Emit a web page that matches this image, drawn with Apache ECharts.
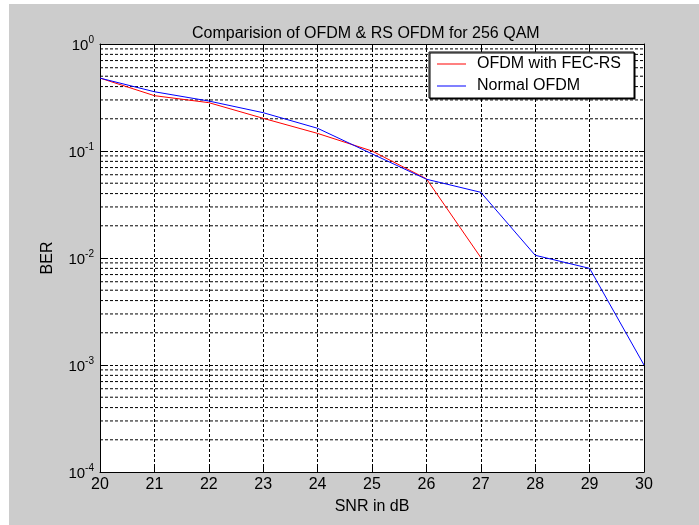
<!DOCTYPE html>
<html>
<head>
<meta charset="utf-8">
<script src="https://cdn.jsdelivr.net/npm/echarts@6/dist/echarts.min.js"></script>
<style>
html,body{margin:0;padding:0;background:#ffffff;}
#chart{position:absolute;left:9px;top:4px;width:690px;height:521px;background:#cccccc;}
</style>
</head>
<body>
<div id="chart"></div>
<script>
// Data
const snrValues = [20, 21, 22, 23, 24, 25, 26, 27, 28, 29, 30];
const berFecRs = [0.48, 0.329, 0.283, 0.202, 0.146, 0.100, 0.055, 0.0101];
const berNormal = [0.48, 0.358, 0.293, 0.228, 0.163, 0.094, 0.0545, 0.0411, 0.0106, 0.0080, 0.001];
const seriesNames = ['OFDM with FEC-RS', 'Normal OFDM'];
const titleText = 'Comparision of OFDM & RS OFDM for 256 QAM';
const xName = 'SNR in dB';
const yName = 'BER';
const minorMultipliers = [2, 3, 4, 5, 6, 7, 8, 9];
const minorDecades = [-4, -3, -2, -1];

const FONT = '"Liberation Sans", Arial, sans-serif';
const pairs = (ys) => ys.map((v, i) => [snrValues[i], v]);

// minor log grid lines as broken line segments across the x range
const minorData = [];
const xMin = snrValues[0], xMax = snrValues[snrValues.length - 1];
minorDecades.forEach(d => minorMultipliers.forEach(m => {
  const v = m * Math.pow(10, d);
  minorData.push([xMin, v], [xMax, v], [xMax, '-']);
}));

const gridDash = { color: '#000', width: 1, type: [3, 2] };

const chart = echarts.init(document.getElementById('chart'), null, { renderer: 'canvas' });
chart.setOption({
  backgroundColor: '#cccccc',
  animation: false,
  title: {
    text: titleText,
    left: 183,
    top: 22,
    padding: 0,
    textStyle: { fontFamily: FONT, fontSize: 16, fontWeight: 'normal', color: '#000' }
  },
  grid: { left: 91, top: 40, width: 544, height: 428, show: true, backgroundColor: '#fff', borderWidth: 0 },
  legend: {
    orient: 'vertical',
    left: 420,
    top: 48,
    padding: [4, 13, 4, 8],
    itemGap: 6,
    itemWidth: 29,
    itemHeight: 1,
    icon: 'rect',
    backgroundColor: '#fff',
    borderColor: '#000',
    borderWidth: 1,
    borderRadius: 0,
    shadowColor: '#000',
    shadowBlur: 0,
    shadowOffsetX: 1,
    shadowOffsetY: 1,
    textStyle: { fontFamily: FONT, fontSize: 16, color: '#000', padding: [0, 0, 0, 6] },
    data: seriesNames
  },
  xAxis: [{
    type: 'value', min: 20, max: 30, interval: 1,
    name: xName, nameLocation: 'middle', nameGap: 27,
    nameTextStyle: { fontFamily: FONT, fontSize: 16, color: '#000' },
    axisLine: { show: true, lineStyle: { color: '#000', width: 1 } },
    axisTick: { show: true, inside: true, length: 5, lineStyle: { color: '#000' } },
    axisLabel: { fontFamily: FONT, fontSize: 16, color: '#000', margin: 5, showMinLabel: true, showMaxLabel: true },
    splitLine: { show: true, lineStyle: gridDash }
  }, {
    type: 'value', min: 20, max: 30, interval: 1, position: 'top',
    axisLine: { show: true, lineStyle: { color: '#000', width: 1 } },
    axisTick: { show: true, inside: true, length: 5, lineStyle: { color: '#000' } },
    axisLabel: { show: false },
    splitLine: { show: false }
  }],
  yAxis: [{
    type: 'log', logBase: 10, min: 0.0001, max: 1,
    name: yName, nameLocation: 'middle', nameGap: 44,
    nameTextStyle: { fontFamily: FONT, fontSize: 16, color: '#000' },
    axisLine: { show: true, lineStyle: { color: '#000', width: 1 } },
    axisTick: { show: true, inside: true, length: 5, lineStyle: { color: '#000' } },
    axisLabel: {
      margin: 6,
      formatter: function (v) {
        const e = Math.round(Math.log10(v));
        return '{b|10}{s|' + e + '}';
      },
      rich: {
        b: { fontFamily: FONT, fontSize: 15, color: '#000', lineHeight: 18, verticalAlign: 'bottom', padding: [4, 0, 0, 0] },
        s: { fontFamily: FONT, fontSize: 10, color: '#000', lineHeight: 10, verticalAlign: 'top' }
      }
    },
    splitLine: { show: true, lineStyle: gridDash }
  }, {
    type: 'log', logBase: 10, min: 0.0001, max: 1, position: 'right',
    axisLine: { show: true, lineStyle: { color: '#000', width: 1 } },
    axisTick: { show: true, inside: true, length: 5, lineStyle: { color: '#000' } },
    axisLabel: { show: false },
    splitLine: { show: false }
  }],
  series: [{
    name: '_minor',
    type: 'line',
    data: minorData,
    connectNulls: false,
    symbol: 'none',
    silent: true,
    z: 1,
    lineStyle: gridDash,
    emphasis: { disabled: true }
  }, {
    name: seriesNames[0],
    type: 'line',
    data: pairs(berFecRs),
    symbol: 'none',
    z: 5,
    lineStyle: { color: '#ff0000', width: 1 },
    itemStyle: { color: '#ff0000' }
  }, {
    name: seriesNames[1],
    type: 'line',
    data: pairs(berNormal),
    symbol: 'none',
    z: 6,
    lineStyle: { color: '#0000ff', width: 1 },
    itemStyle: { color: '#0000ff' }
  }]
});
</script>
</body>
</html>
